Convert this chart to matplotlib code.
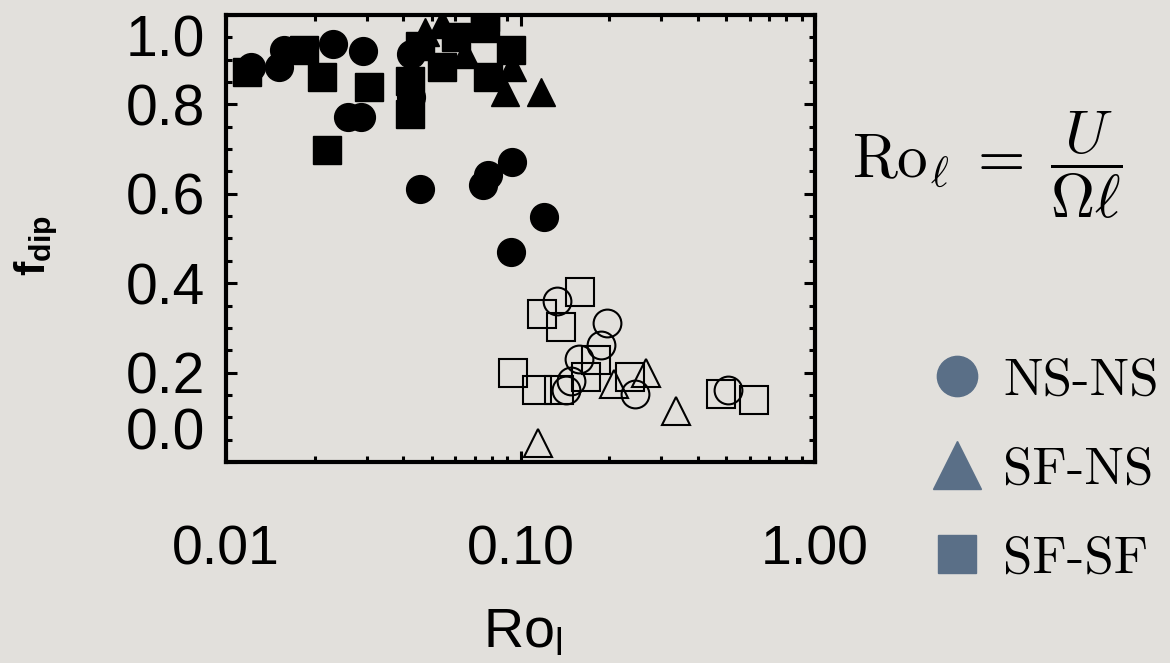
import matplotlib
matplotlib.use('Agg')
import matplotlib.pyplot as plt
from matplotlib.lines import Line2D
from matplotlib.ticker import FuncFormatter

# NS-NS runs (circles): filled = dipolar, open = multipolar
nsns_fill_ro = [0.01215, 0.01512, 0.01573, 0.02306, 0.02913, 0.02592, 0.02868, 0.0425, 0.0425,
                0.04546, 0.07434, 0.0773, 0.09323, 0.1206, 0.0925]
nsns_fill_f = [0.883, 0.883, 0.921, 0.935, 0.919, 0.771, 0.771, 0.912, 0.816,
               0.611, 0.620, 0.643, 0.672, 0.548, 0.470]
nsns_open_ro = [0.1335, 0.1972, 0.1882, 0.1585, 0.1489, 0.1432, 0.2454, 0.5071]
nsns_open_f = [0.360, 0.310, 0.261, 0.231, 0.182, 0.162, 0.151, 0.162]

# SF-NS runs (triangles)
sfns_fill_ro = [0.04727, 0.05397, 0.06459, 0.09323, 0.08827, 0.1178]
sfns_fill_f = [0.962, 0.980, 0.912, 0.883, 0.827, 0.827]
sfns_open_ro = [0.2674, 0.2083, 0.3379, 0.1142]
sfns_open_f = [0.198, 0.175, 0.115, 0.043]

# SF-SF runs (squares)
sfsf_fill_ro = [0.01178, 0.01838, 0.02116, 0.03053, 0.02199, 0.04204, 0.04204, 0.04546,
                0.06022, 0.05397, 0.07551, 0.07551, 0.0925, 0.0773]
sfsf_fill_f = [0.872, 0.921, 0.861, 0.840, 0.699, 0.852, 0.778, 0.930,
               0.951, 0.883, 0.971, 0.996, 0.921, 0.861]
sfsf_open_ro = [0.1597, 0.1187, 0.1377, 0.0940, 0.1133, 0.1356, 0.1809, 0.1674, 0.2360, 0.4801, 0.6212]
sfsf_open_f = [0.380, 0.330, 0.301, 0.200, 0.160, 0.160, 0.229, 0.189, 0.189, 0.151, 0.139]

y_ticks = [0.0, 0.2, 0.4, 0.6, 0.8, 1.0]
x_ticks = [0.01, 0.1, 1.0]
legend_names = ['NS-NS', 'SF-NS', 'SF-SF']

bg = '#e2e0dc'
leg_color = '#5a6f87'

plt.rcParams['font.family'] = ['Liberation Sans', 'DejaVu Sans']

fig = plt.figure(figsize=(11.7, 6.63), dpi=100, facecolor=bg)
ax = fig.add_axes([0.1932, 0.3032, 0.5034, 0.6742], facecolor=bg)

ms = 20
ax.plot(nsns_fill_ro, nsns_fill_f, 'o', color='black', ms=ms)
ax.plot(sfns_fill_ro, sfns_fill_f, '^', color='black', ms=ms)
ax.plot(sfsf_fill_ro, sfsf_fill_f, 's', color='black', ms=ms)
ax.plot(nsns_open_ro, nsns_open_f, 'o', mfc='none', mec='black', mew=1.5, ms=ms)
ax.plot(sfns_open_ro, sfns_open_f, '^', mfc='none', mec='black', mew=1.5, ms=ms)
ax.plot(sfsf_open_ro, sfsf_open_f, 's', mfc='none', mec='black', mew=1.5, ms=ms)

ax.set_xscale('log')
ax.set_xlim(0.01, 1.0)
ax.set_ylim(0.0, 1.0)
ax.set_xticks(x_ticks)
ax.xaxis.set_major_formatter(FuncFormatter(lambda v, p: '%.2f' % v))
ax.set_yticks(y_ticks, labels=['%.1f' % v for v in y_ticks])
ax.set_yticks([i * 0.05 for i in range(21)], minor=True)

for s in ax.spines.values():
    s.set_linewidth(3)
ax.tick_params(which='both', direction='in', top=True, right=True, width=2.2, color='black')
ax.tick_params(which='major', length=8)
ax.tick_params(which='minor', length=4)
ax.tick_params(axis='x', which='major', labelsize=40, pad=45)
ax.tick_params(axis='y', which='major', labelsize=41, pad=15)

ylabs = ax.get_yticklabels()
ylabs[0].set_verticalalignment('bottom')
ylabs[-1].set_verticalalignment('top')

ax.set_xlabel(r'$\mathregular{Ro_l}$', fontsize=40)
ax.xaxis.set_label_coords(0.503, -0.383)
ax.xaxis.label.set_verticalalignment('center')
ax.set_ylabel(r'$\mathregular{f_{dip}}$', fontsize=31, fontweight='bold')
ax.yaxis.set_label_coords(-0.322, 0.485)
ax.yaxis.label.set_verticalalignment('center')

fig.text(0.728, 1 - 165 / 663, r'$\mathrm{Ro}_\ell\;=\;\dfrac{U}{\Omega\ell}$',
         fontsize=44, math_fontfamily='cm', ha='left', va='center')

handles = [
    Line2D([], [], ls='none', marker='o', ms=29, color=leg_color),
    Line2D([], [], ls='none', marker='^', ms=34, color=leg_color),
    Line2D([], [], ls='none', marker='s', ms=27, color=leg_color),
]
fig.legend(handles, legend_names, loc='center left', bbox_to_anchor=(0.782, 1 - 470 / 663),
           frameon=False, borderpad=0, borderaxespad=0, handlelength=1.6, handletextpad=0.07,
           labelspacing=0.80, prop={'family': ['cmr10', 'DejaVu Serif'], 'size': 38})

fig.savefig('out.png', dpi=100, facecolor=bg)
